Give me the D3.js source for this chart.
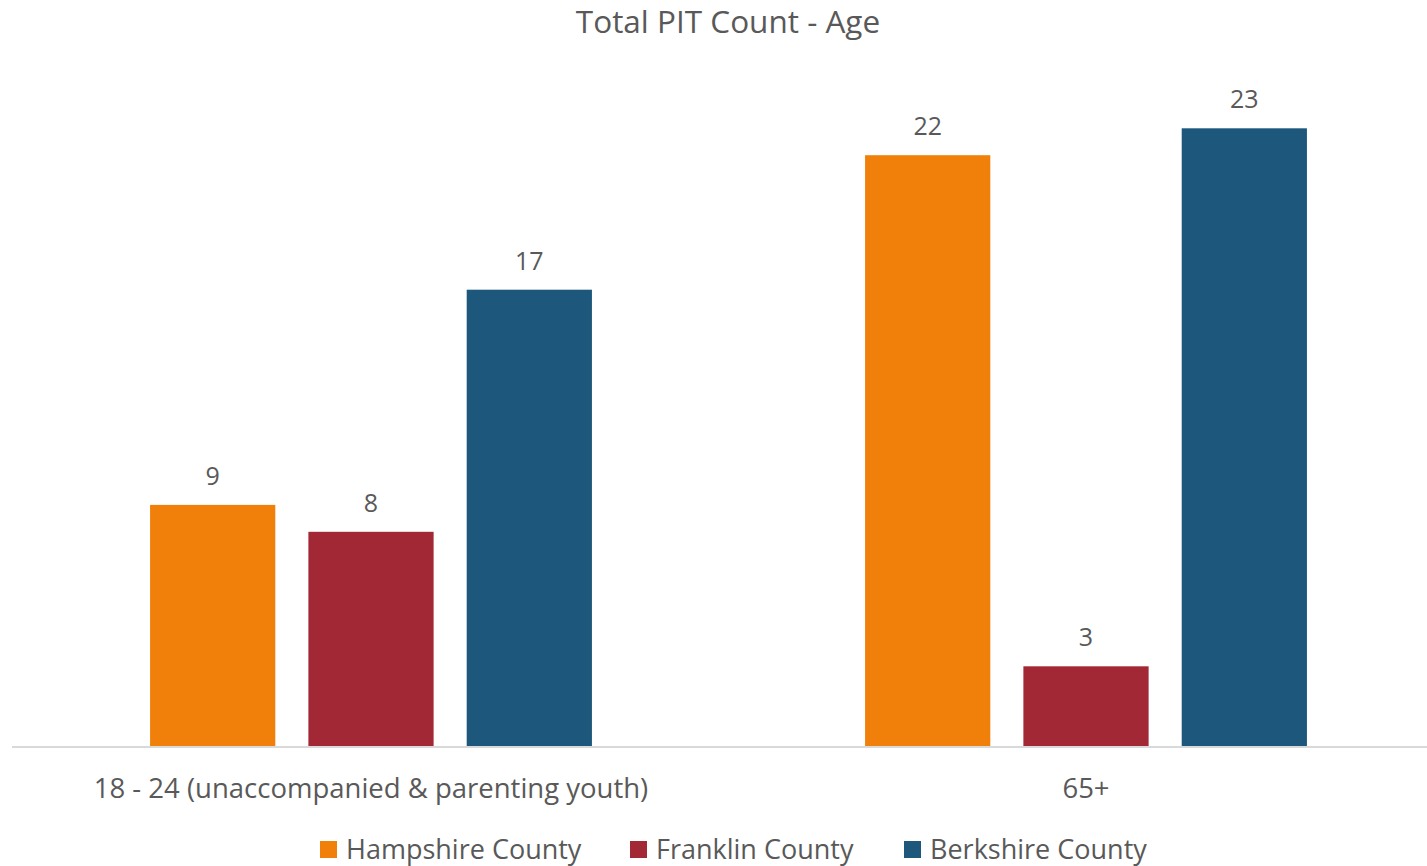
<!DOCTYPE html>
<html>
<head>
<meta charset="utf-8">
<script src="https://cdn.jsdelivr.net/npm/d3@7"></script>
<style>
  body { margin: 0; background: #fff; }
  svg text { font-family: "Open Sans", "DejaVu Sans", sans-serif; fill: #595959; }
</style>
</head>
<body>
<svg width="1427" height="866"></svg>
<script>
// chart data
var categories = ["18 - 24 (unaccompanied & parenting youth)", "65+"];
var seriesNames = ["Hampshire County", "Franklin County", "Berkshire County"];
var hampshire = [9, 22];
var franklin = [8, 3];
var berkshire = [17, 23];
var colors = ["#F0800A", "#A32836", "#1D587C"];

var seriesValues = [hampshire, franklin, berkshire];

var svg = d3.select("svg"),
  width = +svg.attr("width"),
  height = +svg.attr("height");

var plotTop = 74.5, plotBottom = 747;

var x0 = d3.scaleBand()
  .domain(categories)
  .range([13.5, 1443.5])
  .paddingInner(0.382)
  .paddingOuter(0.191);

var x1 = d3.scaleBand()
  .domain(seriesNames)
  .range([0, x0.bandwidth()])
  .paddingInner(0.209)
  .paddingOuter(0);

var y = d3.scaleLinear()
  .domain([0, 25])
  .range([plotBottom, plotTop]);

var color = d3.scaleOrdinal(seriesNames, colors);

// title
svg.append("text")
  .attr("x", 728)
  .attr("y", 33)
  .attr("text-anchor", "middle")
  .attr("font-size", 31.5)
  .text("Total PIT Count - Age");

// flatten into one row per bar
var rows = [];
categories.forEach(function(c, i) {
  seriesNames.forEach(function(s, j) {
    rows.push({ cat: c, series: s, value: seriesValues[j][i] });
  });
});

var groups = svg.append("g").attr("class", "bars");

groups.selectAll("rect")
  .data(rows)
  .enter().append("rect")
  .attr("x", function(d) { return x0(d.cat) + x1(d.series); })
  .attr("y", function(d) { return y(d.value); })
  .attr("width", x1.bandwidth())
  .attr("height", function(d) { return y(0) - y(d.value); })
  .attr("fill", function(d) { return color(d.series); });

groups.selectAll("text")
  .data(rows)
  .enter().append("text")
  .attr("x", function(d) { return x0(d.cat) + x1(d.series) + x1.bandwidth() / 2; })
  .attr("y", function(d) { return y(d.value) - 20; })
  .attr("text-anchor", "middle")
  .attr("font-size", 25)
  .text(function(d) { return d.value; });

// baseline axis
var xAxis = svg.append("g")
  .attr("transform", "translate(0," + plotBottom + ")")
  .call(d3.axisBottom(x0).tickSize(0).tickPadding(31));

xAxis.select(".domain")
  .attr("d", "M12,0H1427")
  .attr("stroke", "#D9D9D9")
  .attr("stroke-width", 2);

xAxis.selectAll(".tick text")
  .attr("font-size", 27.5)
  .attr("font-family", null)
  .attr("fill", "#595959");

// legend
var legendX = [320, 630, 904];
var legend = svg.append("g").attr("class", "legend");
var items = legend.selectAll("g")
  .data(seriesNames)
  .enter().append("g")
  .attr("transform", function(d, i) { return "translate(" + legendX[i] + ",841)"; });

items.append("rect")
  .attr("width", 17)
  .attr("height", 17)
  .attr("fill", function(d) { return color(d); });

items.append("text")
  .attr("x", 26)
  .attr("y", 17.5)
  .attr("font-size", 27)
  .text(function(d) { return d; });
</script>
</body>
</html>
